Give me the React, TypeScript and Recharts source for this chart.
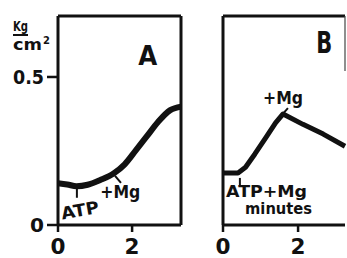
import { LineChart, Line, XAxis, YAxis, ReferenceLine, ReferenceDot } from 'recharts';

// tension (kg/cm²) against time (minutes)
const aMinutes = [0, 0.25, 0.5, 0.8, 1.14, 1.5, 1.8, 2.1, 2.4, 2.7, 3.03, 3.32];
const aTension = [0.141, 0.137, 0.131, 0.136, 0.152, 0.174, 0.205, 0.252, 0.3, 0.348, 0.388, 0.4];
const bMinutes = [0, 0.4, 0.6, 0.85, 1.15, 1.4, 1.6, 2.13, 2.67, 3.25];
const bTension = [0.176, 0.176, 0.195, 0.24, 0.297, 0.345, 0.375, 0.34, 0.307, 0.266];
const xTicks = [0, 2];
const yTicks = [0, 0.5];

const Y_MAX = 0.706;
const A_X_MAX = 3.32;
const B_X_MAX = 3.25;
const INK = '#111';
const FONT = '"DejaVu Sans", "Liberation Sans", sans-serif';

const aData = aMinutes.map((m, i) => ({ m, v: aTension[i] }));
const bData = bMinutes.map((m, i) => ({ m, v: bTension[i] }));

type Note = { x: number; y: number; text: string; size: number; w: number; rot?: number };

const aNotes: Note[] = [
  { x: 2.42, y: 0.541, text: 'A', size: 27, w: 19 },
  { x: 0.62, y: 0.03, text: 'ATP', size: 17, w: 38, rot: -10 },
  { x: 1.68, y: 0.091, text: '+Mg', size: 17, w: 40 },
];
const bNotes: Note[] = [
  { x: 2.7, y: 0.581, text: 'B', size: 30, w: 16 },
  { x: 1.6, y: 0.409, text: '+Mg', size: 17, w: 40 },
  { x: 1.16, y: 0.095, text: 'ATP+Mg', size: 15, w: 81 },
  { x: 1.48, y: 0.037, text: 'minutes', size: 15, w: 67 },
];

const noteLabel = (n: Note) => (props: any) => {
  const vb = props.viewBox || { x: 0, y: 0, width: 0, height: 0 };
  const cx = vb.x + vb.width / 2;
  const cy = vb.y + vb.height / 2;
  return (
    <text
      x={cx}
      y={cy}
      textAnchor="middle"
      fontSize={n.size}
      fontWeight="bold"
      fontFamily={FONT}
      fill={INK}
      textLength={n.w}
      lengthAdjust="spacingAndGlyphs"
      transform={n.rot ? `rotate(${n.rot} ${cx} ${cy})` : undefined}
    >
      {n.text}
    </text>
  );
};

const XTick = (props: any) => {
  const { x, y, payload } = props;
  return (
    <text x={x} y={y + 22} textAnchor="middle" fontSize={21} fontWeight="bold" fontFamily={FONT} fill={INK} textLength={15} lengthAdjust="spacingAndGlyphs">
      {payload.value}
    </text>
  );
};

const YTick = (props: any) => {
  const { x, y, payload } = props;
  const label = payload.value === 0 ? '0' : String(payload.value);
  return (
    <text x={x} y={y + 7} textAnchor="end" fontSize={20} fontWeight="bold" fontFamily={FONT} fill={INK} textLength={label.length > 1 ? 31 : 14} lengthAdjust="spacingAndGlyphs">
      {label}
    </text>
  );
};

const UnitLabel = (props: any) => {
  const top = props.viewBox ? props.viewBox.y : 16;
  return (
    <g fontFamily={FONT} fontWeight="bold" fill={INK}>
      <text x={13} y={top + 15} fontSize={14} textLength={15} lengthAdjust="spacingAndGlyphs">Kg</text>
      <line x1={13} x2={28} y1={top + 19} y2={top + 19} stroke={INK} strokeWidth={2} />
      <text x={13} y={top + 34} fontSize={16} textLength={29} lengthAdjust="spacingAndGlyphs">cm</text>
      <text x={43} y={top + 28} fontSize={10}>2</text>
    </g>
  );
};

function PanelA() {
  return (
    <LineChart width={190} height={258} data={aData} margin={{ top: 16, right: 9, left: 0, bottom: 0 }}>
      <XAxis
        dataKey="m"
        type="number"
        domain={[0, A_X_MAX]}
        ticks={xTicks}
        height={33}
        tickSize={7}
        tickMargin={0}
        axisLine={{ stroke: INK, strokeWidth: 3 }}
        tickLine={{ stroke: INK, strokeWidth: 2.5 }}
        tick={<XTick />}
      />
      <YAxis
        type="number"
        domain={[0, Y_MAX]}
        ticks={yTicks}
        width={58}
        tickSize={11}
        tickMargin={3}
        axisLine={{ stroke: INK, strokeWidth: 3 }}
        tickLine={{ stroke: INK, strokeWidth: 2.5 }}
        tick={<YTick />}
        label={{ content: <UnitLabel /> } as any}
      />
      <ReferenceLine y={Y_MAX} stroke={INK} strokeWidth={3} />
      <ReferenceLine x={A_X_MAX} stroke={INK} strokeWidth={3} />
      <ReferenceLine segment={[{ x: 0.51, y: 0.125 }, { x: 0.51, y: 0.092 }]} stroke={INK} strokeWidth={2} />
      <ReferenceLine segment={[{ x: 1.54, y: 0.166 }, { x: 1.7, y: 0.142 }]} stroke={INK} strokeWidth={2} />
      <Line type="monotone" dataKey="v" stroke={INK} strokeWidth={6} dot={false} isAnimationActive={false} />
      {aNotes.map((n) => (
        <ReferenceDot key={n.text} x={n.x} y={n.y} r={0} fill="none" stroke="none" label={{ content: noteLabel(n) } as any} />
      ))}
    </LineChart>
  );
}

function PanelB() {
  return (
    <LineChart width={134} height={258} data={bData} margin={{ top: 16, right: 2, left: 0, bottom: 0 }}>
      <XAxis
        dataKey="m"
        type="number"
        domain={[0, B_X_MAX]}
        ticks={xTicks}
        height={33}
        tickSize={7}
        tickMargin={0}
        axisLine={{ stroke: INK, strokeWidth: 3 }}
        tickLine={{ stroke: INK, strokeWidth: 2.5 }}
        tick={<XTick />}
      />
      <YAxis
        type="number"
        domain={[0, Y_MAX]}
        ticks={yTicks}
        width={10}
        tick={false}
        tickLine={false}
        axisLine={{ stroke: INK, strokeWidth: 3 }}
      />
      <ReferenceLine y={Y_MAX} stroke={INK} strokeWidth={3} />
      <ReferenceLine segment={[{ x: B_X_MAX, y: Y_MAX }, { x: B_X_MAX, y: 0.52 }]} stroke="#444" strokeWidth={1.2} />
      <ReferenceLine segment={[{ x: 0.45, y: 0.159 }, { x: 0.45, y: 0.132 }]} stroke={INK} strokeWidth={2} />
      <ReferenceLine segment={[{ x: 1.57, y: 0.372 }, { x: 1.73, y: 0.395 }]} stroke={INK} strokeWidth={2} />
      <Line type="linear" dataKey="v" stroke={INK} strokeWidth={5} strokeLinejoin="round" dot={false} isAnimationActive={false} />
      {bNotes.map((n) => (
        <ReferenceDot key={n.text} x={n.x} y={n.y} r={0} fill="none" stroke="none" label={{ content: noteLabel(n) } as any} />
      ))}
    </LineChart>
  );
}

export default function App() {
  return (
    <div style={{ position: 'absolute', left: 0, top: 0, width: 347, height: 258, overflow: 'hidden', background: '#fff' }}>
      <div style={{ position: 'absolute', left: 0, top: 0 }}>
        <PanelA />
      </div>
      <div style={{ position: 'absolute', left: 213, top: 0 }}>
        <PanelB />
      </div>
    </div>
  );
}
